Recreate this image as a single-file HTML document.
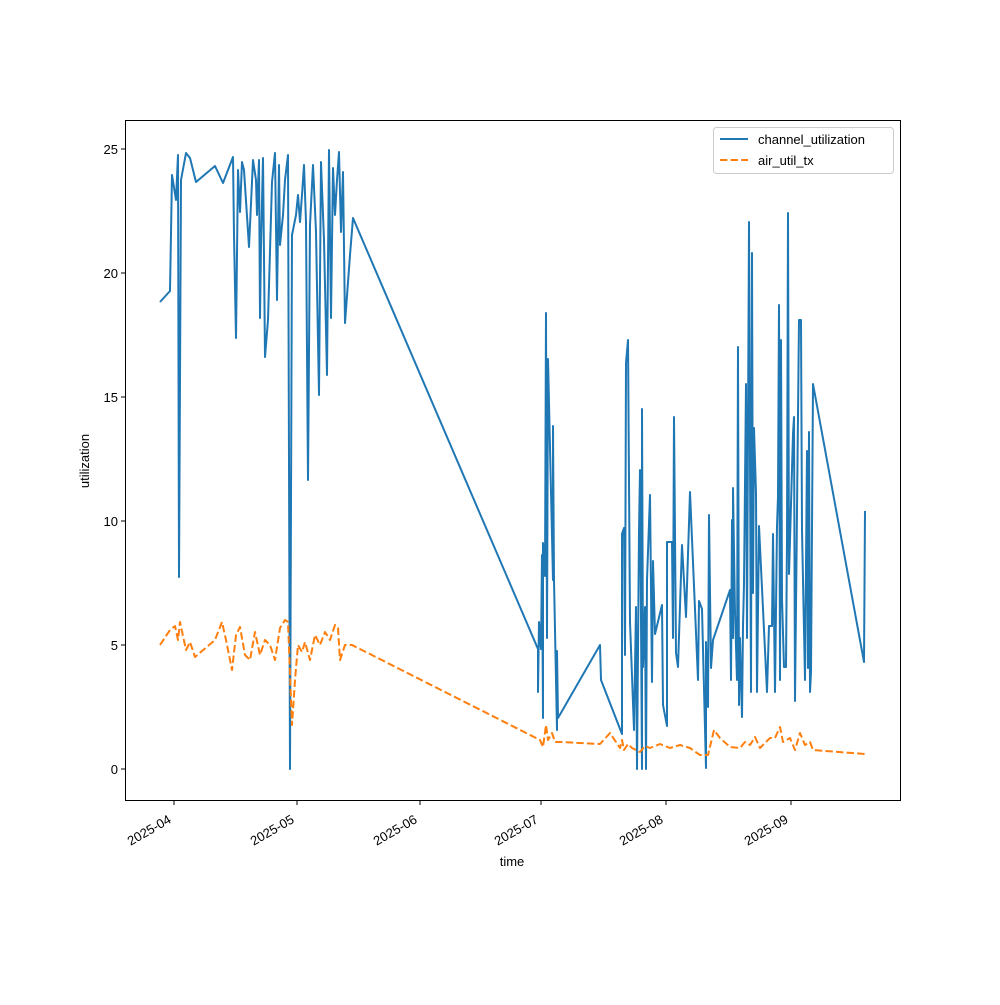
<!DOCTYPE html>
<html><head><style>
body{margin:0;background:#fff}
svg text{font-family:"Liberation Sans","DejaVu Sans",sans-serif;font-size:13px;fill:#000}
</style></head><body>
<svg width="1000" height="1000" viewBox="0 0 1000 1000" xmlns="http://www.w3.org/2000/svg">
<rect width="1000" height="1000" fill="#fff"/>
<g fill="none" stroke-linejoin="round">
<polyline stroke="#1f77b4" stroke-width="2" points="160,302 170,291 172,175 176,200 178,155 179,577 181,180 186,153 190,158 196,182 215,166 223,183 233,157 234,235 236,338 238,170 240,212 242,162 244,170 249,247 253,160 256,180 257,215 259,160 260,318 261,246 263,158 265,357 268,320 272,182 275,153 277,300 279,165 280,245 283,215 285,180 288,155 290,769 292,235 296,215 298,195 300,222 302,195 304,165 306,222 308,480 310,225 313,165 316,232 319,395 321,162 324,240 327,375 329,150 331,318 333,168 335,215 337,180 339,152 341,232 343,172 345,323 350,255 353,218 520,607 538,649 538,692 539,622 541,649 542,555 543,718 543,543 545,576 546,313 547,638 548,359 553,580 553,426 554,580 557,730 557,651 558,718 600,645 601,680 622,734 622,534 624,528 625,655 626,363 628,340 630,622 634,730 636,607 637,769 639,532 640,470 642,769 642,409 643,667 645,607 646,769 647,580 650,495 652,682 653,561 655,634 662,605 663,705 667,726 667,542 672,542 673,638 674,417 676,653 678,667 682,545 686,617 690,492 698,680 699,601 702,609 706,768 706,642 708,707 709,515 711,668 713,640 730,590 731,680 732,520 733,638 733,488 735,613 737,680 738,347 739,705 740,638 742,717 743,626 744,584 746,384 747,638 749,222 751,692 752,253 753,593 754,428 756,493 757,692 759,526 767,692 769,626 772,626 773,534 775,692 777,526 778,497 779,305 780,680 781,340 782,599 784,667 786,667 787,538 788,213 789,574 790,540 793,434 794,417 795,701 799,320 801,320 802,530 805,680 807,451 808,668 809,432 810,692 811,672 813,384 864,662 865,511"/>
<polyline stroke="#ff7f0e" stroke-width="2" stroke-dasharray="7.4,3.2" points="160,645 170,630 175,626 178,640 180,622 186,650 190,642 195,657 215,640 222,622 226,640 232,670 236,635 240,627 245,655 250,660 255,632 260,655 265,640 270,645 275,660 280,628 285,620 288,622 292,725 295,680 298,645 302,652 305,642 310,660 315,635 320,645 325,632 330,640 335,625 338,628 340,660 345,645 352,645 540,740 543,747 546,725 548,740 552,733 555,742 560,742 600,744 610,733 620,748 622,740 624,750 628,744 632,748 640,752 645,746 650,748 660,744 670,748 680,745 690,748 700,755 708,755 714,730 720,738 730,747 740,748 745,742 750,745 755,737 760,748 770,738 775,738 780,727 783,742 790,738 795,750 800,733 805,745 810,742 813,750 865,754"/>
</g>
<rect x="125.5" y="120.5" width="775" height="680" fill="none" stroke="#000" stroke-width="1"/>
<g stroke="#000" stroke-width="1">
<line x1="125" y1="769" x2="121" y2="769"/><line x1="125" y1="645" x2="121" y2="645"/><line x1="125" y1="521" x2="121" y2="521"/><line x1="125" y1="397" x2="121" y2="397"/><line x1="125" y1="273" x2="121" y2="273"/><line x1="125" y1="149" x2="121" y2="149"/>
<line x1="174" y1="801" x2="174" y2="805"/><line x1="297" y1="801" x2="297" y2="805"/><line x1="420" y1="801" x2="420" y2="805"/><line x1="541" y1="801" x2="541" y2="805"/><line x1="666" y1="801" x2="666" y2="805"/><line x1="791" y1="801" x2="791" y2="805"/>
</g>
<g text-anchor="end">
<text x="118" y="774">0</text><text x="118" y="650">5</text><text x="118" y="526">10</text><text x="118" y="402">15</text><text x="118" y="278">20</text><text x="118" y="154">25</text>
<text transform="translate(172,822) rotate(-30)">2025-04</text>
<text transform="translate(295,822) rotate(-30)">2025-05</text>
<text transform="translate(418,822) rotate(-30)">2025-06</text>
<text transform="translate(539,822) rotate(-30)">2025-07</text>
<text transform="translate(664,822) rotate(-30)">2025-08</text>
<text transform="translate(789,822) rotate(-30)">2025-09</text>
</g>
<text x="512" y="866" text-anchor="middle">time</text>
<text transform="translate(89,461) rotate(-90)" text-anchor="middle">utilization</text>
<rect x="713.5" y="127.5" width="180" height="46" rx="3" fill="#fff" stroke="#ccc"/>
<line x1="720" y1="139" x2="748" y2="139" stroke="#1f77b4" stroke-width="2"/>
<line x1="720" y1="160" x2="748" y2="160" stroke="#ff7f0e" stroke-width="2" stroke-dasharray="7.4,3.2"/>
<text x="758" y="144">channel_utilization</text>
<text x="758" y="165">air_util_tx</text>
</svg>
</body></html>
